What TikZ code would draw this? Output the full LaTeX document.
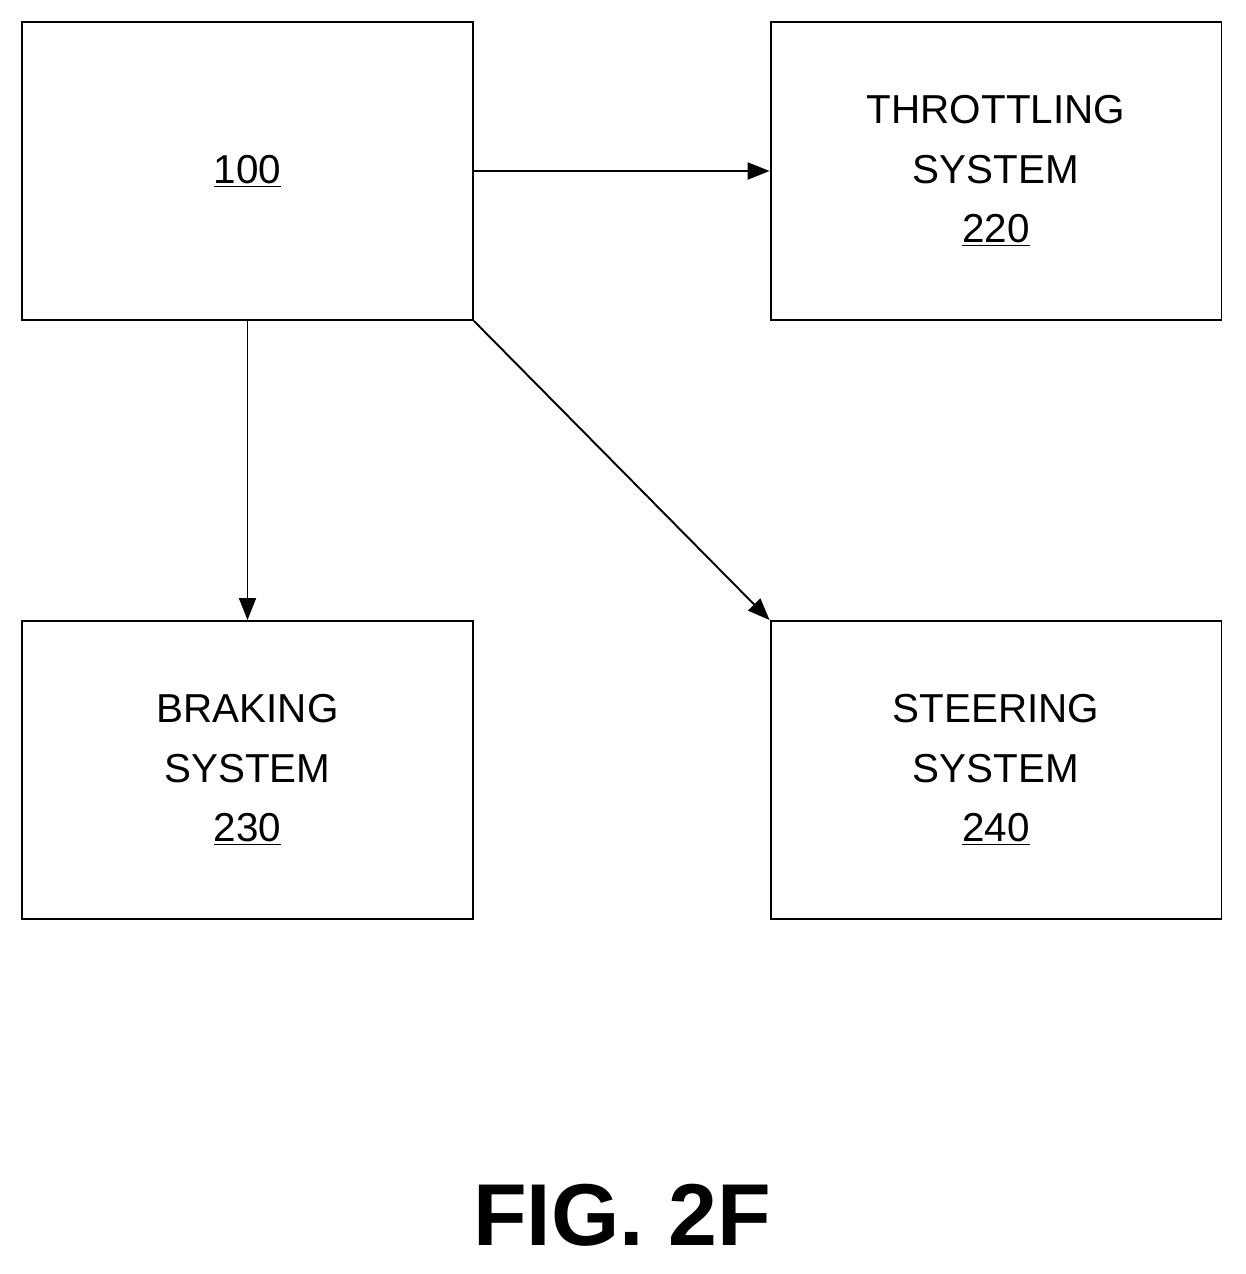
\documentclass[tikz,border=0pt]{standalone}
\usepackage{fontspec}
\setmainfont{Liberation Sans}
\usetikzlibrary{arrows.meta}
\begin{document}
\begin{tikzpicture}[x=0.02cm,y=-0.02cm,
  box/.style={draw,line width=1.1pt,minimum width=9.02cm,minimum height=5.96cm,align=center,font=\fontsize{23}{34}\selectfont,inner sep=0pt},
  arr/.style={line width=1.1pt,-{Triangle[length=0.44cm,width=0.34cm]}}]
\useasboundingbox (0,0) rectangle (1246,1274);
\node[box] (a) at (247.5,171) {\underline{100}};
\node[box] (t) at (996,171) {THROTTLING\\SYSTEM\\\underline{220}};
\node[box] (b) at (247.5,770) {BRAKING\\SYSTEM\\\underline{230}};
\node[box] (s) at (996,770) {STEERING\\SYSTEM\\\underline{240}};
\draw[arr] (a.east) -- (t.west);
\draw[arr] (a.south) -- (b.north);
\draw[arr] (a.south east) -- (s.north west);
\node[font=\fontsize{50}{60}\selectfont\bfseries] (f) at (622,1215) {FIG. 2F};
\end{tikzpicture}
\end{document}
